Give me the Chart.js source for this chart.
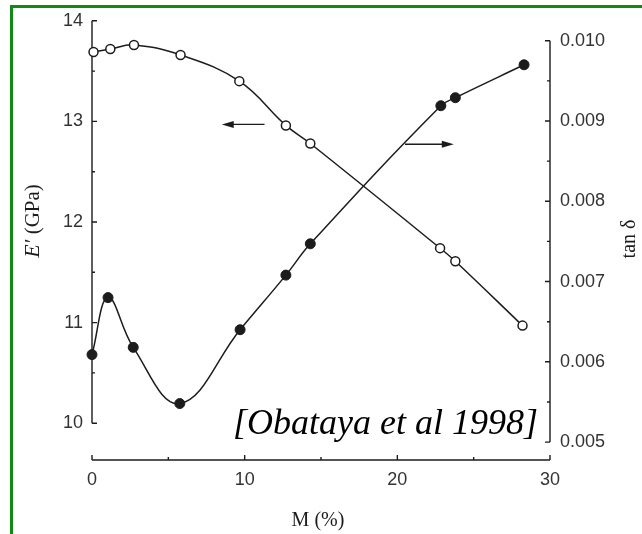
<!DOCTYPE html>
<html>
<head>
<meta charset="utf-8">
<script src="https://cdn.jsdelivr.net/npm/chart.js@4.4.0/dist/chart.umd.min.js"></script>
<style>
  html, body { margin: 0; padding: 0; background: #fff; overflow: hidden; }
  #wrap { position: relative; width: 642px; height: 534px; }
  #frame { position: absolute; left: 10px; top: 5px; width: 660px; height: 560px;
           border-left: 3px solid #108a10; border-top: 3px solid #108a10; }
  #chart { position: absolute; left: 0; top: 0; }
</style>
</head>
<body>
<div id="wrap">
  <div id="frame"></div>
  <canvas id="chart" width="642" height="534"></canvas>
</div>
<script>
// Obataya et al 1998: E' and tan delta vs moisture content
const modulusM = [0.1, 1.2, 2.75, 5.8, 9.65, 12.7, 14.3, 22.8, 23.8, 28.2];
const modulus = [13.69, 13.72, 13.76, 13.66, 13.40, 12.96, 12.78, 11.74, 11.61, 10.97];

const tanM = [0, 1.05, 2.7, 5.75, 9.7, 12.7, 14.3, 22.85, 23.8, 28.3];
const tanDelta = [0.00609, 0.00680, 0.00618, 0.00548, 0.00640, 0.00708, 0.00747, 0.00919, 0.00929, 0.00970];

const mTicks = [0, 10, 20, 30];
const mMinor = [5, 15, 25];
const modulusTicks = [10, 11, 12, 13, 14];
const modulusMinor = [10.5, 11.5, 12.5, 13.5];
const tanTicks = [0.005, 0.006, 0.007, 0.008, 0.009, 0.010];
const tanMinor = [0.0055, 0.0065, 0.0075, 0.0085, 0.0095];

// arrows point from the curve label to its axis (data coordinates)
const arrows = [
    { axis: 'yE', from: [11.3, 12.97], to: [8.5, 12.97] },
    { axis: 'yT', from: [20.5, 0.00871], to: [23.7, 0.00871] }
];

const ink = '#1c1c1c';
const tickFont = { family: 'Liberation Sans', size: 18 };

function toPoints(xs, ys) {
    return xs.map((x, i) => ({ x: x, y: ys[i] }));
}

const figurePlugin = {
    id: 'figure',
    beforeDatasetsDraw(chart) {
        const ctx = chart.ctx;
        const x = chart.scales.x, yE = chart.scales.yE, yT = chart.scales.yT;
        ctx.save();
        ctx.strokeStyle = ink;
        ctx.lineWidth = 1.4;

        // left axis
        const lx = x.getPixelForValue(0);
        ctx.beginPath();
        ctx.moveTo(lx, yE.getPixelForValue(14));
        ctx.lineTo(lx, yE.getPixelForValue(10));
        modulusTicks.forEach(v => { const p = yE.getPixelForValue(v); ctx.moveTo(lx, p); ctx.lineTo(lx + 5, p); });
        modulusMinor.forEach(v => { const p = yE.getPixelForValue(v); ctx.moveTo(lx, p); ctx.lineTo(lx + 3, p); });

        // right axis
        const rx = x.getPixelForValue(30);
        ctx.moveTo(rx, yT.getPixelForValue(0.010));
        ctx.lineTo(rx, yT.getPixelForValue(0.005));
        tanTicks.forEach(v => { const p = yT.getPixelForValue(v); ctx.moveTo(rx, p); ctx.lineTo(rx - 5, p); });
        tanMinor.forEach(v => { const p = yT.getPixelForValue(v); ctx.moveTo(rx, p); ctx.lineTo(rx - 3, p); });

        // bottom axis
        const by = chart.chartArea.bottom;
        ctx.moveTo(lx, by);
        ctx.lineTo(rx, by);
        mTicks.forEach(v => { const p = x.getPixelForValue(v); ctx.moveTo(p, by); ctx.lineTo(p, by - 5); });
        mMinor.forEach(v => { const p = x.getPixelForValue(v); ctx.moveTo(p, by); ctx.lineTo(p, by - 3); });
        ctx.stroke();

        // arrows
        arrows.forEach(a => {
            const ys = chart.scales[a.axis];
            const x0 = x.getPixelForValue(a.from[0]), y0 = ys.getPixelForValue(a.from[1]);
            const x1 = x.getPixelForValue(a.to[0]), y1 = ys.getPixelForValue(a.to[1]);
            const dir = Math.sign(x1 - x0);
            ctx.beginPath();
            ctx.moveTo(x0, y0);
            ctx.lineTo(x1 - dir * 8, y1);
            ctx.stroke();
            ctx.beginPath();
            ctx.moveTo(x1, y1);
            ctx.lineTo(x1 - dir * 12, y1 - 3.5);
            ctx.lineTo(x1 - dir * 12, y1 + 3.5);
            ctx.closePath();
            ctx.fillStyle = ink;
            ctx.fill();
        });
        ctx.restore();
    },
    afterDraw(chart) {
        const ctx = chart.ctx;
        const area = chart.chartArea;
        ctx.save();
        ctx.fillStyle = ink;
        ctx.textBaseline = 'middle';

        // x title
        ctx.textAlign = 'center';
        ctx.font = '20px "Liberation Serif"';
        ctx.fillText('M (%)', (area.left + area.right) / 2 - 3, 521);

        // left title, E' italic
        ctx.save();
        ctx.translate(33, 221);
        ctx.rotate(-Math.PI / 2);
        ctx.textAlign = 'left';
        const e = 'E\u2032';
        ctx.font = '21px "Liberation Serif"';
        const rest = ' (GPa)';
        const wRest = ctx.measureText(rest).width;
        ctx.font = 'italic 22px "Liberation Serif"';
        const wE = ctx.measureText(e).width;
        const start = -(wE + wRest) / 2;
        ctx.fillText(e, start, 0);
        ctx.font = '21px "Liberation Serif"';
        ctx.fillText(rest, start + wE, 0);
        ctx.restore();

        // right title
        ctx.save();
        ctx.translate(630, 239);
        ctx.rotate(-Math.PI / 2);
        ctx.textAlign = 'center';
        ctx.font = '20px "Liberation Serif"';
        ctx.fillText('tan \u03b4', 0, 0);
        ctx.restore();

        // source note
        ctx.fillStyle = '#000';
        ctx.textAlign = 'right';
        ctx.textBaseline = 'alphabetic';
        ctx.font = 'italic 36px "Liberation Serif"';
        ctx.fillText('[Obataya et al 1998]', area.right - 12, area.bottom - 26);
        ctx.restore();
    }
};

new Chart(document.getElementById('chart'), {
    type: 'scatter',
    data: {
        datasets: [{
            label: "E'",
            data: toPoints(modulusM, modulus),
            yAxisID: 'yE',
            showLine: true,
            tension: 0.4,
            borderColor: ink,
            borderWidth: 1.5,
            pointRadius: 4.5,
            pointBorderWidth: 1.5,
            pointBorderColor: ink,
            pointBackgroundColor: '#fff'
        }, {
            label: 'tan \u03b4',
            data: toPoints(tanM, tanDelta),
            yAxisID: 'yT',
            showLine: true,
            tension: 0.4,
            borderColor: ink,
            borderWidth: 1.5,
            pointRadius: 5,
            pointBorderWidth: 1,
            pointBorderColor: ink,
            pointBackgroundColor: ink
        }]
    },
    options: {
        responsive: false,
        animation: false,
        events: [],
        clip: false,
        layout: { padding: { top: 19, left: 0, right: 0, bottom: 0 } },
        plugins: {
            legend: { display: false },
            tooltip: { enabled: false }
        },
        scales: {
            x: {
                type: 'linear',
                min: 0,
                max: 30,
                grid: { display: false, drawTicks: false },
                border: { display: false },
                afterBuildTicks: s => { s.ticks = mTicks.map(v => ({ value: v })); },
                afterFit: s => { s.height = 74; },
                ticks: { font: tickFont, color: '#333', padding: 9, maxRotation: 0 }
            },
            yE: {
                type: 'linear',
                position: 'left',
                min: 9.634,
                max: 14,
                grid: { display: false, drawTicks: false },
                border: { display: false },
                afterBuildTicks: s => { s.ticks = modulusTicks.map(v => ({ value: v })); },
                afterFit: s => { s.width = 92; },
                ticks: { font: tickFont, color: '#333', padding: 9 }
            },
            yT: {
                type: 'linear',
                position: 'right',
                min: 0.004777,
                max: 0.010248,
                grid: { display: false, drawTicks: false },
                border: { display: false },
                afterBuildTicks: s => { s.ticks = tanTicks.map(v => ({ value: v })); },
                afterFit: s => { s.width = 92; },
                ticks: {
                    font: tickFont, color: '#333', padding: 10,
                    callback: v => v.toFixed(3)
                }
            }
        }
    },
    plugins: [figurePlugin]
});
</script>
</body>
</html>
